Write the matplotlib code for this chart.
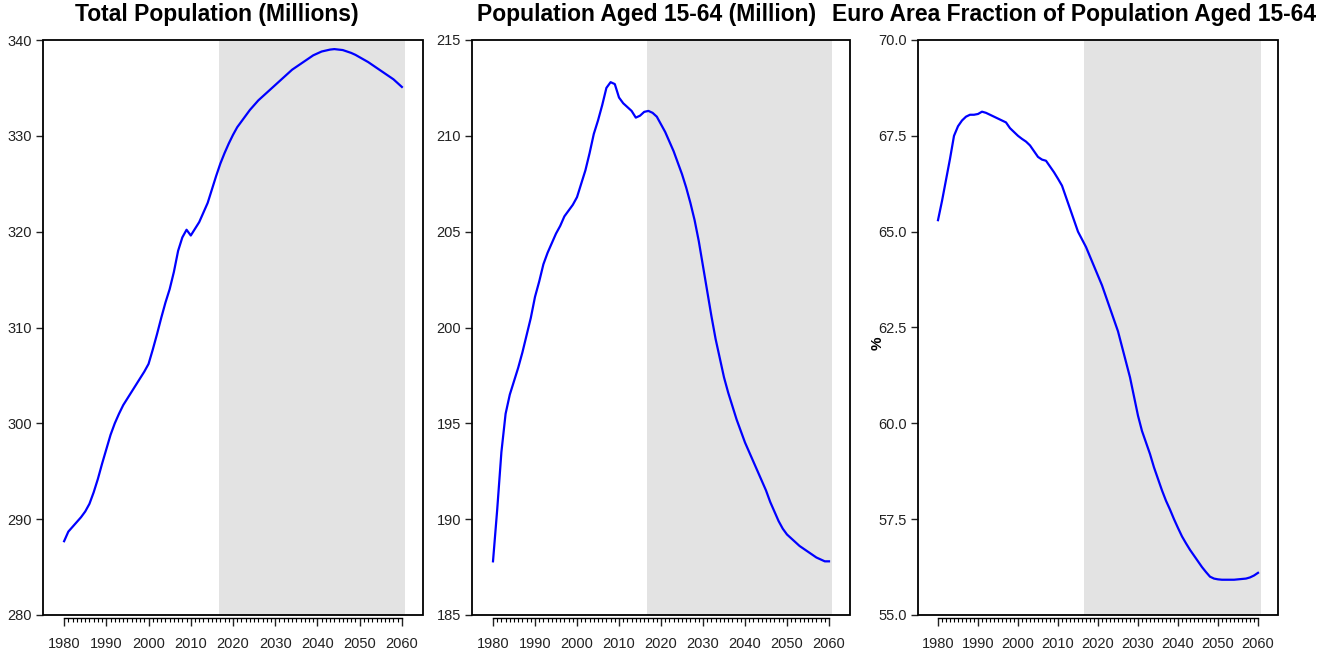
import numpy as np
import matplotlib.pyplot as plt
from matplotlib.patches import Rectangle

plt.rcParams['font.family'] = ['Liberation Sans', 'DejaVu Sans']

years = np.arange(1980, 2061)

total_pop = [
    287.7, 288.7, 289.2, 289.7, 290.2, 290.8, 291.6, 292.8, 294.2, 295.8,
    297.3, 298.8, 300.0, 301.0, 301.9, 302.6, 303.3, 304.0, 304.7, 305.4,
    306.2, 307.7, 309.3, 311.0, 312.6, 314.0, 315.8, 318.0, 319.4, 320.2,
    319.6, 320.3, 321.0, 322.0, 323.0, 324.4, 325.8, 327.1, 328.2, 329.2,
    330.1, 330.9, 331.5, 332.1, 332.7, 333.2, 333.7, 334.1, 334.5, 334.9,
    335.3, 335.7, 336.1, 336.5, 336.9, 337.2, 337.5, 337.8, 338.1, 338.4,
    338.6, 338.8, 338.9, 339.0, 339.05, 339.0, 338.95, 338.8, 338.65, 338.45,
    338.2, 337.95, 337.7, 337.4, 337.1, 336.8, 336.5, 336.2, 335.9, 335.5,
    335.1,
]

pop_1564 = [
    187.8, 190.5, 193.5, 195.5, 196.5, 197.2, 197.9, 198.7, 199.6, 200.5,
    201.6, 202.4, 203.3, 203.9, 204.4, 204.9, 205.3, 205.8, 206.1, 206.4,
    206.8, 207.5, 208.2, 209.1, 210.1, 210.8, 211.6, 212.5, 212.8, 212.7,
    212.0, 211.7, 211.5, 211.3, 210.95, 211.05, 211.25, 211.3, 211.2, 211.0,
    210.6, 210.2, 209.7, 209.2, 208.6, 208.0, 207.3, 206.5, 205.6, 204.5,
    203.2, 201.9, 200.6, 199.4, 198.4, 197.4, 196.6, 195.9, 195.2, 194.6,
    194.0, 193.5, 193.0, 192.5, 192.0, 191.5, 190.9, 190.4, 189.9, 189.5,
    189.2, 189.0, 188.8, 188.6, 188.45, 188.3, 188.15, 188.0, 187.9, 187.8,
    187.8,
]

frac_1564 = [
    65.3, 65.8, 66.35, 66.9, 67.5, 67.75, 67.9, 68.0, 68.05, 68.05,
    68.07, 68.13, 68.1, 68.05, 68.0, 67.95, 67.9, 67.85, 67.7, 67.6,
    67.5, 67.42, 67.35, 67.25, 67.1, 66.95, 66.88, 66.85, 66.7, 66.55,
    66.38, 66.2, 65.9, 65.6, 65.3, 65.0, 64.8, 64.6, 64.35, 64.1,
    63.85, 63.6, 63.3, 63.0, 62.7, 62.4, 62.0, 61.6, 61.2, 60.7,
    60.2, 59.8, 59.5, 59.2, 58.85, 58.55, 58.25, 57.98, 57.75, 57.5,
    57.27, 57.05, 56.87, 56.7, 56.55, 56.4, 56.25, 56.12, 56.0, 55.95,
    55.93, 55.92, 55.92, 55.92, 55.92, 55.93, 55.94, 55.95, 55.98, 56.03,
    56.1,
]

titles = ['Total Population (Millions)', 'Population Aged 15-64 (Million)',
          'Euro Area Fraction of Population Aged 15-64']
series = [total_pop, pop_1564, frac_1564]
ylims = [(280, 340), (185, 215), (55, 70)]
ysteps = [10, 5, 2.5]
yfmts = ['{:.0f}', '{:.0f}', '{:.1f}']
proj_start, proj_end = 2016.6, 2060.7

W, H = 1324, 655
fig = plt.figure(figsize=(W / 100, H / 100), dpi=100)

# panel boxes in pixels: left, right
boxes = [(43, 423), (472, 850), (918, 1278)]
title_x = [217, 647, 1074]
top_px, bot_px = 40, 615

for i in range(3):
    l, r = boxes[i]
    ax = fig.add_axes([l / W, 1 - bot_px / H, (r - l) / W, (bot_px - top_px) / H])
    ax.axvspan(proj_start, proj_end, color='#e3e3e3', lw=0, zorder=0)
    ax.plot(years, series[i], color='#0000ff', lw=1.6, zorder=3)
    ax.set_xlim(1975, 2065)
    ax.set_ylim(*ylims[i])

    ax.set_xticks(np.arange(1980, 2061, 10))
    ax.set_xticks(np.arange(1980, 2061, 1), minor=True)
    yt = np.arange(ylims[i][0], ylims[i][1] + 0.01, ysteps[i])
    ax.set_yticks(yt)
    ax.set_yticklabels([yfmts[i].format(v) for v in yt])

    # R-style: box around the plot, x axis line offset below it
    for s in ['top', 'left', 'right']:
        ax.spines[s].set_visible(False)
    ax.spines['bottom'].set_position(('outward', 2.2))
    ax.spines['bottom'].set_bounds(1980, 2060)
    ax.spines['bottom'].set_linewidth(1.0)
    ax.add_patch(Rectangle((0, 0), 1, 1, transform=ax.transAxes, fill=False,
                           ec='black', lw=1.3, clip_on=False, zorder=5))

    ax.tick_params(axis='x', which='major', length=6, width=1.0, pad=8,
                   labelsize=10.5, colors='#222222')
    ax.tick_params(axis='x', which='minor', length=3, width=0.8)
    ax.tick_params(axis='y', length=5, width=1.0, pad=3, labelsize=10.5,
                   colors='#222222')

    fig.text(title_x[i] / W, 1 - 21 / H, titles[i], ha='center', va='baseline',
             fontsize=16.5, fontweight='bold')

    if i == 2:
        ax.text((878 - l) / (r - l), 1 - (343 - top_px) / (bot_px - top_px), '%',
                rotation=90, ha='center', va='center', fontsize=11,
                fontweight='bold', transform=ax.transAxes)

fig.savefig('out.png', dpi=100)
